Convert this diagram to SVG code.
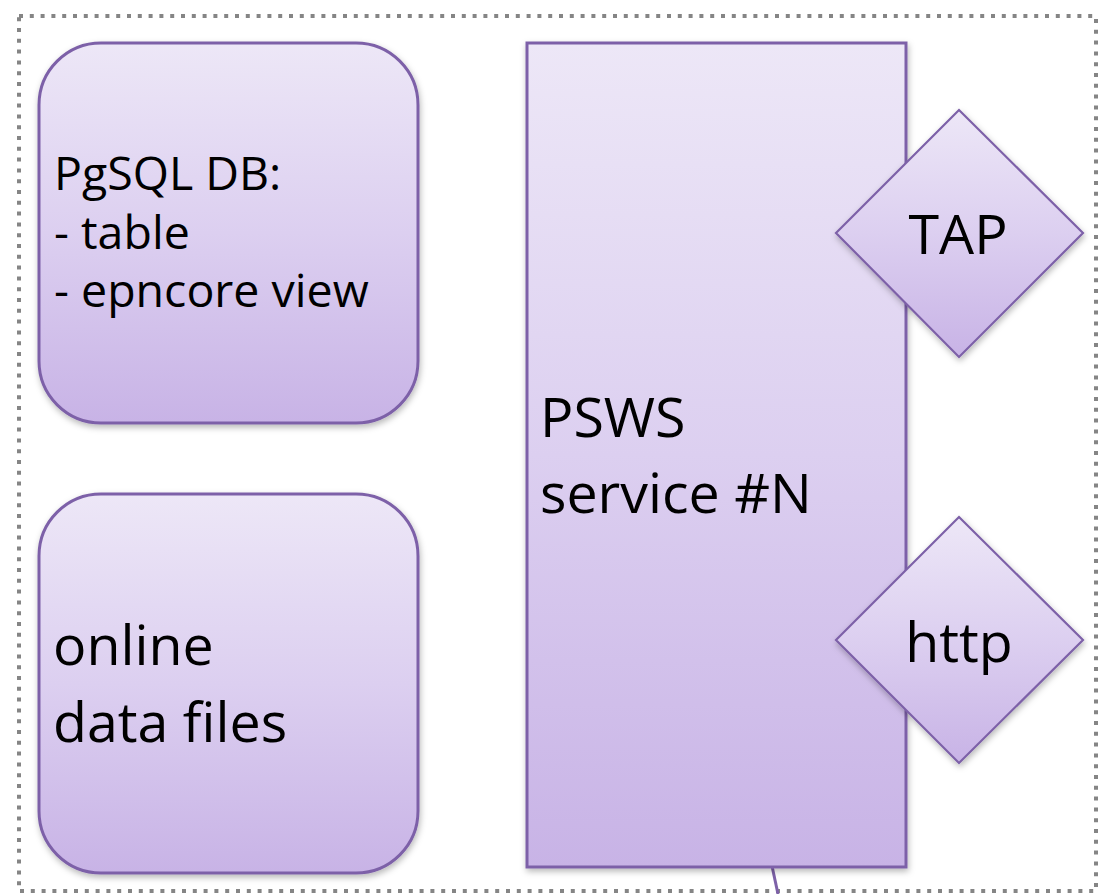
<svg xmlns="http://www.w3.org/2000/svg" width="1099" height="894" viewBox="0 0 1099 894">
  <defs>
    <linearGradient id="gBox" x1="0" y1="0" x2="0" y2="1">
      <stop offset="0" stop-color="#ede7f7"/>
      <stop offset="0.5" stop-color="#dccff0"/>
      <stop offset="1" stop-color="#c8b3e6"/>
    </linearGradient>
    <filter id="shadow" x="-10%" y="-10%" width="120%" height="120%">
      <feDropShadow dx="1" dy="3" stdDeviation="3" flood-color="#000" flood-opacity="0.28"/>
    </filter>
    <style>
      .shape { fill: url(#gBox); stroke: #7d61a8; stroke-width: 3; filter: url(#shadow); }
      .diam { fill: url(#gBox); stroke: #7d61a8; stroke-width: 2.2; filter: url(#shadow); }
      .txt { font-family: "Open Sans", "Liberation Sans", sans-serif; fill: #000; }
      .t45 { font-size: 46.5px; }
      .t54 { font-size: 55.5px; }
      .conn { stroke: #7d61a8; stroke-width: 3; fill: none; }
    </style>
  </defs>

  <rect x="19" y="16" width="1077" height="875" fill="none" stroke="#858585" stroke-width="4" stroke-dasharray="4 6.8"/>

  <g id="connectors">
    <line class="conn" x1="772" y1="866" x2="778" y2="894"/>
  </g>

  <g id="pgsql">
    <rect class="shape" x="39" y="43" width="379" height="380" rx="62" ry="62"/>
    <text class="txt t45" x="54" y="190">PgSQL DB:</text>
    <text class="txt t45" x="54" y="249">- table</text>
    <text class="txt t45" x="54" y="307">- epncore view</text>
  </g>

  <g id="datafiles">
    <rect class="shape" x="39" y="494" width="379" height="379" rx="62" ry="62"/>
    <text class="txt t54" x="53" y="665">online</text>
    <text class="txt t54" x="53" y="742">data files</text>
  </g>

  <g id="psws">
    <rect class="shape" x="527" y="43" width="379" height="824"/>
    <text class="txt t54" x="540" y="437">PSWS</text>
    <text class="txt t54" x="540" y="513">service #N</text>
  </g>

  <g id="tap">
    <polygon class="diam" points="959,110 1083,233 959,357 836,233"/>
    <text class="txt t54" x="958" y="254" text-anchor="middle">TAP</text>
  </g>

  <g id="http">
    <polygon class="diam" points="959,517 1083,640 959,763 836,640"/>
    <text class="txt t54" x="959" y="662" text-anchor="middle">http</text>
  </g>
</svg>
